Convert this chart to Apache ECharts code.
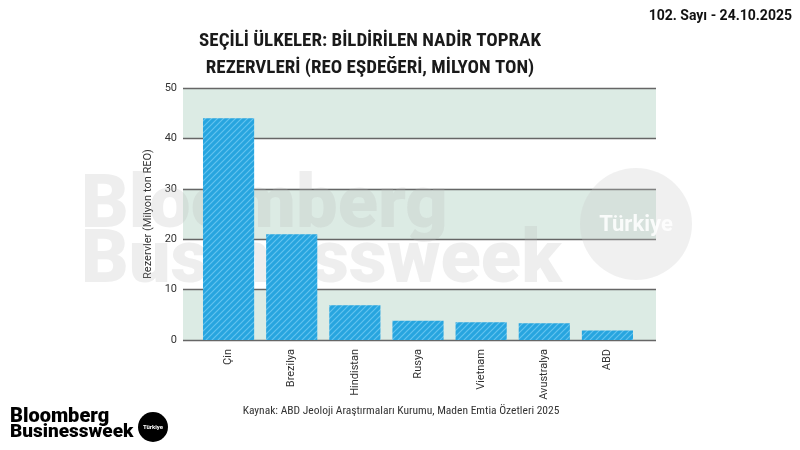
<!DOCTYPE html>
<html>
<head>
<meta charset="utf-8">
<script src="https://cdn.jsdelivr.net/npm/echarts@6/dist/echarts.min.js"></script>
<style>
  html, body { margin: 0; padding: 0; background: #fff; }
  #chart { width: 800px; height: 450px; }
</style>
</head>
<body>
<div id="chart"></div>
<script>
const countries = ['Çin', 'Brezilya', 'Hindistan', 'Rusya', 'Vietnam', 'Avustralya', 'ABD'];
const reserves = [44, 21, 6.9, 3.8, 3.5, 3.3, 1.9];
const yTicks = [0, 10, 20, 30, 40, 50];

const NARROW = "'Liberation Sans Narrow', 'Roboto Condensed', Roboto, sans-serif";
const FONT = "Roboto, sans-serif";

// hatched fill for the bars
const makeHatch = () => {
  const c = document.createElement('canvas');
  c.width = 6; c.height = 6;
  const ctx = c.getContext('2d');
  ctx.fillStyle = '#27a5df';
  ctx.fillRect(0, 0, 6, 6);
  ctx.strokeStyle = '#63c3ef';
  ctx.lineWidth = 1.2;
  ctx.beginPath();
  ctx.moveTo(0, 6); ctx.lineTo(6, 0);
  ctx.moveTo(-3, 3); ctx.lineTo(3, -3);
  ctx.moveTo(3, 9); ctx.lineTo(9, 3);
  ctx.stroke();
  return c;
};

const myChart = echarts.init(document.getElementById('chart'));

const yMin = yTicks[0];
const yMax = yTicks[yTicks.length - 1];

const option = {
  backgroundColor: '#fff',
  animation: false,
  // grid 0 = banded background, grid 1 = bars (categories sit a bit inside the bands)
  grid: [
    { left: 183, right: 144, top: 88, bottom: 110 },
    { left: 197, right: 161, top: 88, bottom: 110 }
  ],
  xAxis: [
    { gridIndex: 0, type: 'category', data: countries, show: false },
    {
      gridIndex: 1,
      type: 'category',
      data: countries,
      axisLine: { show: false },
      axisTick: { show: false },
      axisLabel: { rotate: 90, color: '#333', fontSize: 11, fontFamily: FONT, margin: 9 }
    }
  ],
  yAxis: [
    {
      gridIndex: 0,
      type: 'value',
      min: yMin,
      max: yMax,
      interval: 10,
      name: 'Rezervler (Milyon ton REO)',
      nameLocation: 'middle',
      nameGap: 12,
      nameTextStyle: { color: '#333', fontSize: 11, fontFamily: FONT },
      axisLine: { show: false },
      axisTick: { show: false },
      axisLabel: { color: '#333', fontSize: 11, fontFamily: FONT, margin: 6 },
      splitLine: { lineStyle: { color: '#666', width: 1.3 } },
      splitArea: {
        show: true,
        areaStyle: { color: ['#dcebe4', 'rgba(255,255,255,0)'] }
      }
    },
    { gridIndex: 1, type: 'value', min: yMin, max: yMax, interval: 10, show: false, splitLine: { show: false } }
  ],
  graphic: [
    // faded watermark
    {
      type: 'text', x: 81, y: 245, z: 1, silent: true,
      style: { text: 'Bloomberg', font: "900 74px Roboto, sans-serif", fill: 'rgba(185,185,185,0.24)', verticalAlign: 'bottom' }
    },
    {
      type: 'text', x: 81, y: 300, z: 1, silent: true,
      style: { text: 'Businessweek', font: "900 74px Roboto, sans-serif", fill: 'rgba(185,185,185,0.24)', verticalAlign: 'bottom' }
    },
    {
      type: 'circle', shape: { cx: 636, cy: 224, r: 56 }, z: 1, silent: true,
      style: { fill: 'rgba(200,200,200,0.28)' }
    },
    {
      type: 'text', x: 636, y: 225, z: 1, silent: true,
      style: { text: 'Türkiye', font: "bold 22px Roboto, sans-serif", fill: 'rgba(255,255,255,0.85)', align: 'center', verticalAlign: 'middle' }
    },
    // title
    {
      type: 'text', x: 370, y: 41, silent: true,
      style: { text: 'SEÇİLİ ÜLKELER: BİLDİRİLEN NADİR TOPRAK', font: "bold 19px " + NARROW, fill: '#1a1a1a', align: 'center', verticalAlign: 'middle' }
    },
    {
      type: 'text', x: 370, y: 68, silent: true,
      style: { text: 'REZERVLERİ (REO EŞDEĞERİ, MİLYON TON)', font: "bold 19px " + NARROW, fill: '#1a1a1a', align: 'center', verticalAlign: 'middle' }
    },
    {
      type: 'text', x: 792, y: 16, silent: true,
      style: { text: '102. Sayı - 24.10.2025', font: "bold 14px " + FONT, fill: '#111', align: 'right', verticalAlign: 'middle' }
    },
    // source
    {
      type: 'text', x: 401, y: 411, silent: true,
      style: { text: 'Kaynak: ABD Jeoloji Araştırmaları Kurumu, Maden Emtia Özetleri 2025', font: "11.5px " + NARROW, fill: '#333', align: 'center', verticalAlign: 'middle' }
    },
    // logo
    {
      type: 'text', left: 10, top: 407, silent: true,
      style: { text: 'Bloomberg', font: "900 20px Roboto, sans-serif", fill: '#000' }
    },
    {
      type: 'text', left: 10, top: 423, silent: true,
      style: { text: 'Businessweek', font: "900 19px Roboto, sans-serif", fill: '#000' }
    },
    {
      type: 'circle', shape: { cx: 153, cy: 427, r: 15 }, silent: true,
      style: { fill: '#000' }
    },
    {
      type: 'text', x: 153, y: 427, silent: true,
      style: { text: 'Türkiye', font: "bold 6px Roboto, sans-serif", fill: '#fff', align: 'center', verticalAlign: 'middle' }
    }
  ],
  series: [
    {
      type: 'bar',
      xAxisIndex: 1,
      yAxisIndex: 1,
      data: reserves,
      barWidth: '81%',
      z: 3,
      itemStyle: { color: { image: makeHatch(), repeat: 'repeat' } }
    }
  ]
};

myChart.setOption(option);
window.addEventListener('resize', () => myChart.resize());
</script>
</body>
</html>
